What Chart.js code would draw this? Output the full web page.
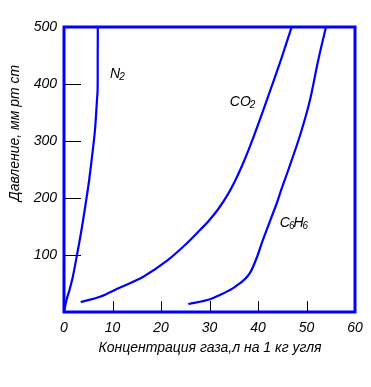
<!DOCTYPE html>
<html>
<head>
<meta charset="utf-8">
<script src="https://cdn.jsdelivr.net/npm/chart.js@4/dist/chart.umd.min.js"></script>
<style>
  html, body { margin:0; padding:0; background:#fff; }
  #wrap { width:371px; height:387px; position:relative; }
</style>
</head>
<body>
<div id="wrap"><canvas id="chart"></canvas></div>
<script>
// values (x: gas concentration, y: pressure)
const xTicks = [0, 10, 20, 30, 40, 50, 60];
const yTicks = [0, 100, 200, 300, 400, 500];

const n2X = [0, 0.52, 1.13, 1.81, 2.68, 3.71, 4.74, 5.19, 5.94, 6.39, 6.80, 6.93, 6.95, 6.97];
const n2Y = [0, 21.1, 38.6, 61.4, 100, 149.1, 205.3, 231.6, 284.2, 319.3, 371.9, 389.5, 442.1, 500];

const co2X = [3.44, 7.42, 11.2, 16.35, 21.18, 24.95, 27.69, 29.69, 31.81, 33.88, 35.26, 36.64, 38.0, 39.03, 41.09, 42.82, 44.74, 46.95];
const co2Y = [17.5, 26.8, 41.6, 61.9, 89.5, 117.5, 140.9, 158.4, 180.7, 207.6, 229.7, 255.2, 283.1, 305.8, 354.2, 395.7, 442.7, 500];

const c6h6X = [25.63, 30.10, 31.81, 35.4, 38.35, 39.73, 40.76, 41.79, 42.82, 43.86, 44.89, 46.25, 49.01, 50.72, 52.43, 54.02];
const c6h6Y = [14.0, 22.3, 28.6, 45, 68.5, 95, 120.5, 143.9, 167.2, 190.7, 217.0, 249.1, 319.3, 371.9, 442.1, 500];

// curve labels: [main, sub, main, sub...], anchored in data units
const curveLabels = [
  {parts:['N','2'], x:9.5, y:417},
  {parts:['CO','2'], x:34.2, y:368},
  {parts:['C','6','H','6'], x:44.5, y:156}
];

const yTitle = 'Давление, мм рт ст';
const xTitle = 'Концентрация газа,л на 1 кг угля';

const BLUE = '#0000ff';
const FONT = 'italic 14px "Liberation Sans", Arial, sans-serif';

function pts(xs, ys){ return xs.map((x,i)=>({x, y:ys[i]})); }

const frame = {
  id:'frame',
  afterDraw(chart){
    const {ctx, chartArea:a, scales:{x, y}} = chart;
    ctx.save();
    // inner tick marks
    ctx.strokeStyle = '#000';
    ctx.lineWidth = 1;
    ctx.beginPath();
    yTicks.filter(v=>v>0 && v<500).forEach(v=>{
      const py = Math.round(y.getPixelForValue(v)) + 0.5;
      ctx.moveTo(a.left - 1, py); ctx.lineTo(a.left + 17, py);
    });
    xTicks.filter(v=>v>0 && v<60).forEach(v=>{
      const px = Math.round(x.getPixelForValue(v)) + 0.5;
      ctx.moveTo(px, a.bottom); ctx.lineTo(px, a.bottom - 11);
    });
    ctx.stroke();
    // blue frame
    ctx.strokeStyle = BLUE;
    ctx.lineWidth = 3;
    ctx.strokeRect(a.left, a.top, a.right - a.left, a.bottom - a.top);
    // curve labels
    ctx.fillStyle = '#000';
    ctx.textBaseline = 'middle';
    ctx.textAlign = 'left';
    curveLabels.forEach(l=>{
      let px = x.getPixelForValue(l.x);
      const py = y.getPixelForValue(l.y);
      l.parts.forEach((p,i)=>{
        const sub = i % 2 === 1;
        ctx.font = sub ? 'italic 10px "Liberation Sans", Arial, sans-serif' : FONT;
        ctx.fillText(p, px, sub ? py + 3 : py);
        px += ctx.measureText(p).width - 1;
      });
    });
    // axis titles
    ctx.font = FONT;
    ctx.textAlign = 'center';
    ctx.fillText(xTitle, 210, 348);
    ctx.translate(15, 133);
    ctx.rotate(-Math.PI/2);
    ctx.fillText(yTitle, 0, 0);
    ctx.restore();
  }
};

const line = (data, mono)=>({
  data, showLine:true, borderColor:BLUE, borderWidth:2.2, pointRadius:0, fill:false,
  tension:0.3, cubicInterpolationMode: mono ? 'monotone' : 'default'
});

new Chart(document.getElementById('chart'), {
  type:'scatter',
  data:{
    datasets:[ line(pts(n2X, n2Y), false), line(pts(co2X, co2Y), true), line(pts(c6h6X, c6h6Y), true) ]
  },
  options:{
    responsive:true,
    maintainAspectRatio:false,
    animation:false,
    layout:{ padding:{ left:0, top:27, right:16, bottom:0 } },
    plugins:{ legend:{display:false}, tooltip:{enabled:false} },
    scales:{
      x:{
        type:'linear', min:0, max:60,
        afterBuildTicks(s){ s.ticks = xTicks.map(v=>({value:v})); },
        afterFit(s){ s.height = 75; },
        grid:{ display:false, drawTicks:false },
        border:{ display:false },
        ticks:{ color:'#000', font:{family:'"Liberation Sans", Arial, sans-serif', size:14, style:'italic'}, padding:8, maxRotation:0 }
      },
      y:{
        type:'linear', min:0, max:500,
        afterBuildTicks(s){ s.ticks = yTicks.map(v=>({value:v})); },
        afterFit(s){ s.width = 64; },
        grid:{ display:false, drawTicks:false },
        border:{ display:false },
        ticks:{ color:'#000', font:{family:'"Liberation Sans", Arial, sans-serif', size:14, style:'italic'}, padding:7,
          callback:v => v === 0 ? '' : v }
      }
    }
  },
  plugins:[frame]
});
</script>
</body>
</html>
